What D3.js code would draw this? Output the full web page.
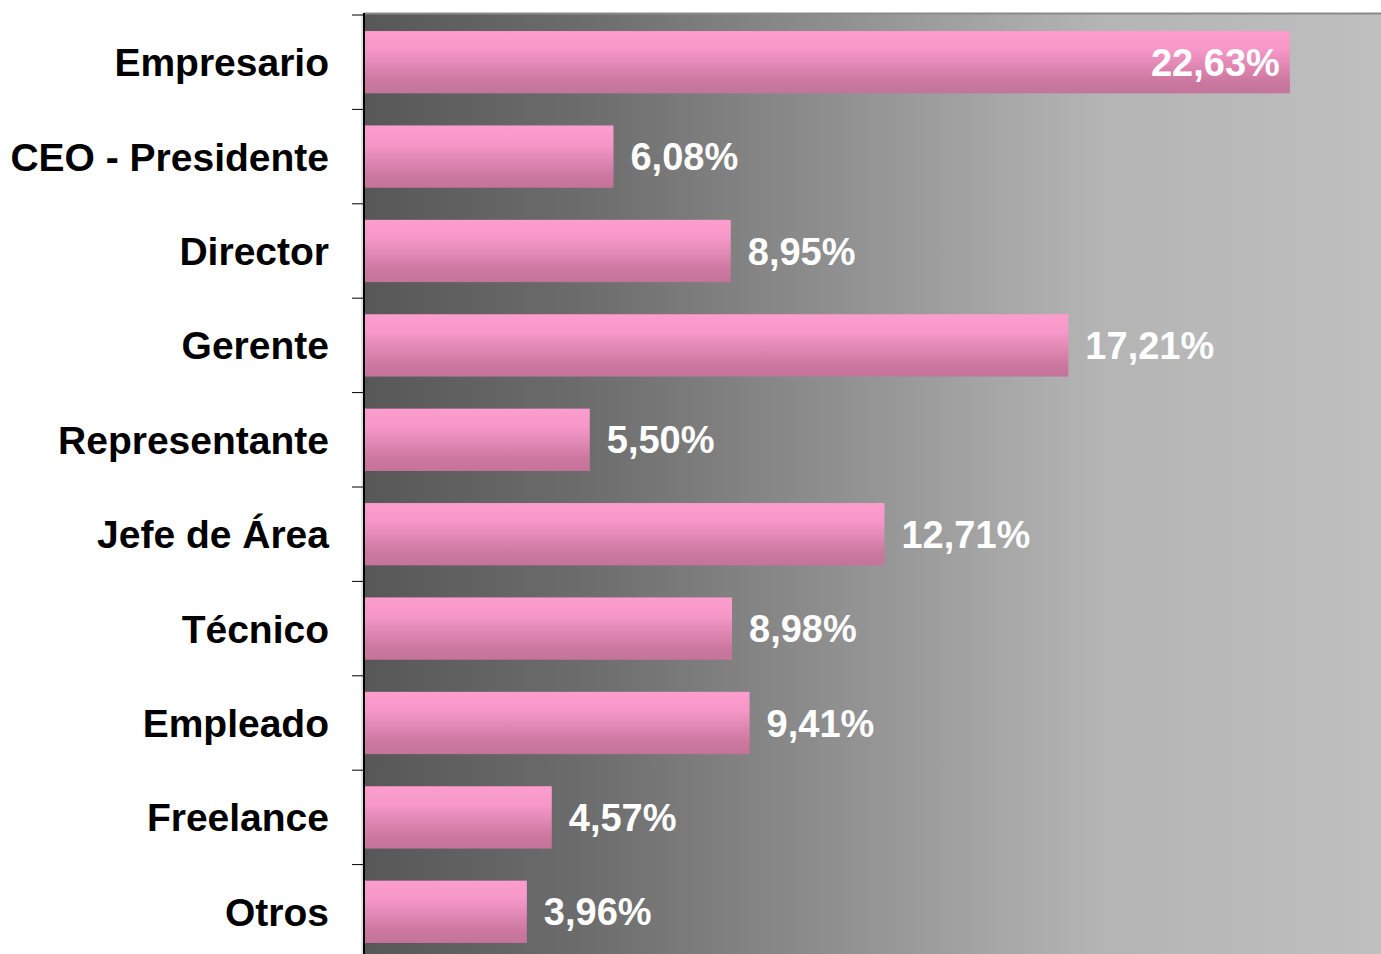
<!DOCTYPE html>
<meta charset="utf-8">
<style>
body { margin: 0; background: #fff; }
.cat text { font-family: "Liberation Sans", Arial, sans-serif; font-weight: bold; font-size: 39px; fill: #000; }
.vals text { font-family: "Liberation Sans", Arial, sans-serif; font-weight: bold; font-size: 38px; fill: #fff; }
.ticks line { stroke: #000; }
.ticks path { display: none; }
</style>
<svg width="1381" height="954"></svg>
<script src="https://d3js.org/d3.v7.min.js"></script>
<script>

var categories = ["Empresario", "CEO - Presidente", "Director", "Gerente", "Representante",
                  "Jefe de Área", "Técnico", "Empleado", "Freelance", "Otros"];
var values = [22.63, 6.08, 8.95, 17.21, 5.50, 12.71, 8.98, 9.41, 4.57, 3.96];
var valueLabels = ["22,63%", "6,08%", "8,95%", "17,21%", "5,50%", "12,71%", "8,98%", "9,41%", "4,57%", "3,96%"];

var rows = categories.map(function(c, i) { return { cat: c, v: values[i], lab: valueLabels[i] }; });

var svg = d3.select("svg"),
    plotLeft = 364, plotTop = 14, plotBottom = 958;

var x = d3.scaleLinear().domain([0, 25]).range([plotLeft + 1, plotLeft + 1 + 25 * 40.87]);
var y = d3.scaleBand().domain(categories).range([plotTop + 1, plotBottom + 1]).paddingInner(0.34).paddingOuter(0.17);
var yTicks = d3.scaleLinear().domain([0, categories.length]).range([plotTop, plotBottom]);

var defs = svg.append("defs");
var bg = defs.append("linearGradient").attr("id", "bg").attr("x1", "0").attr("x2", "1").attr("y1", "0").attr("y2", "0");
[[0, "#575757"], [0.23, "#6e6e6e"], [0.62, "#a6a6a6"], [0.72, "#b4b4b4"], [1, "#bfbfbf"]].forEach(function(s) {
  bg.append("stop").attr("offset", s[0]).attr("stop-color", s[1]);
});
var pink = defs.append("linearGradient").attr("id", "pink").attr("x1", "0").attr("x2", "0").attr("y1", "0").attr("y2", "1");
[[0, "#fc9dcd"], [0.3, "#f597c8"], [0.8, "#cc78a0"], [1, "#c47399"]].forEach(function(s) {
  pink.append("stop").attr("offset", s[0]).attr("stop-color", s[1]);
});

// plot area
svg.append("rect")
    .attr("x", plotLeft).attr("y", plotTop)
    .attr("width", 1381 - plotLeft).attr("height", plotBottom - plotTop)
    .attr("fill", "url(#bg)");
svg.append("line")
    .attr("x1", plotLeft).attr("x2", 1381).attr("y1", plotTop - 0.5).attr("y2", plotTop - 0.5)
    .attr("stroke", "#8a8a8a").attr("stroke-width", 2);

// bars
svg.append("g")
    .selectAll("rect")
    .data(rows)
    .enter().append("rect")
    .attr("x", x(0))
    .attr("y", function(d) { return y(d.cat); })
    .attr("width", function(d) { return x(d.v) - x(0); })
    .attr("height", y.bandwidth())
    .attr("fill", "url(#pink)");

// axis line + ticks
svg.append("line")
    .attr("x1", plotLeft - 2).attr("x2", plotLeft - 2).attr("y1", plotTop).attr("y2", plotBottom)
    .attr("stroke", "#c8c8c8").attr("stroke-width", 1);
svg.append("line")
    .attr("x1", plotLeft).attr("x2", plotLeft).attr("y1", plotTop - 1).attr("y2", plotBottom)
    .attr("stroke", "#000").attr("stroke-width", 2);
svg.append("g")
    .attr("class", "ticks")
    .attr("transform", "translate(" + (plotLeft - 1) + ",0.5)")
    .call(d3.axisLeft(yTicks).ticks(categories.length).tickSize(11).tickSizeOuter(0).tickFormat(""));

// category labels
svg.append("g")
    .attr("class", "cat")
    .selectAll("text")
    .data(rows)
    .enter().append("text")
    .attr("x", 329)
    .attr("y", function(d) { return y(d.cat) + y.bandwidth() / 2; })
    .attr("dy", "0.36em")
    .attr("text-anchor", "end")
    .text(function(d) { return d.cat; });

// value labels
var maxV = d3.max(values);
svg.append("g")
    .attr("class", "vals")
    .selectAll("text")
    .data(rows)
    .enter().append("text")
    .attr("x", function(d) { return d.v === maxV ? x(d.v) - 10 : x(d.v) + 17; })
    .attr("y", function(d) { return y(d.cat) + y.bandwidth() / 2; })
    .attr("dy", "0.36em")
    .attr("text-anchor", function(d) { return d.v === maxV ? "end" : "start"; })
    .text(function(d) { return d.lab; });

</script>
